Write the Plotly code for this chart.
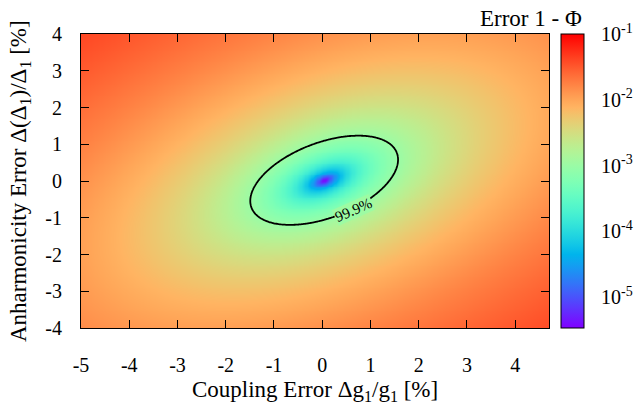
import numpy as np
import plotly.graph_objects as go

# ---- axes (values in %) ----
x_range = [-5.0, 4.7]
y_range = [-4.0, 4.0]
x_ticks = [-5, -4, -3, -2, -1, 0, 1, 2, 3, 4]
y_ticks = [-4, -3, -2, -1, 0, 1, 2, 3, 4]
x_title = "Coupling Error Δg<sub>1</sub>/g<sub>1</sub> [%]"
y_title = "Anharmonicity Error Δ(Δ<sub>1</sub>)/Δ<sub>1</sub> [%]"
cbar_title = "Error 1 - Φ"

# ---- error model: 1-Phi ~ e0 + a*dx^2 + b*dy^2 + c*dx*dy ----
err_floor = 4e-6
coef_xx = 5.4e-4
coef_yy = 8.6e-4
coef_xy = -6.3e-4
center_x = 0.04
center_y = 0.02
contour_fidelity = 0.999
contour_label = "99.9%"
label_pos = (0.64, -0.78)
label_angle = -24

# ---- colour bar (log10 of error) ----
cbar_min = -5.47
cbar_max = -1.0
cbar_major = [-1, -2, -3, -4, -5]
cbar_minor = [-1.5, -2.5, -3.5, -4.5]

FONT = "Liberation Serif"
TICK = 20
TITLE = 23

xs = np.linspace(x_range[0], x_range[1], 389)
ys = np.linspace(y_range[0], y_range[1], 321)
X, Y = np.meshgrid(xs, ys)


def model(x, y):
    dx, dy = x - center_x, y - center_y
    return err_floor + coef_xx * dx**2 + coef_yy * dy**2 + coef_xy * dx * dy


err = model(X, Y)
logerr = np.log10(err)


def rainbow(t):
    r = min(1.0, abs(2 * t - 0.5))
    g = np.sin(np.pi * t)
    b = np.cos(np.pi * t / 2)
    return "rgb(%d,%d,%d)" % (round(255 * r), round(255 * max(g, 0)), round(255 * max(b, 0)))


cscale = [[t, rainbow(t)] for t in np.linspace(0, 1, 41)]

tickvals = []
ticktext = []
for v in sorted(cbar_major + cbar_minor, reverse=True):
    tickvals.append(v)
    ticktext.append("10<sup>%d</sup>" % v if v in cbar_major else "")

fig = go.Figure()
fig.add_trace(go.Heatmap(
    x=xs, y=ys, z=logerr, zmin=cbar_min, zmax=cbar_max,
    colorscale=cscale, zsmooth="best", hoverinfo="skip",
    colorbar=dict(
        x=(561 - 81) / 468, xanchor="left", xpad=0, ypad=0,
        y=0, yanchor="bottom", len=1, lenmode="fraction",
        thickness=23, thicknessmode="pixels",
        outlinecolor="black", outlinewidth=1,
        tickmode="array", tickvals=tickvals, ticktext=ticktext,
        ticks="outside", ticklen=13, tickcolor="rgba(0,0,0,0)", tickwidth=1,
        tickfont=dict(family=FONT, size=TICK, color="black"),
    ),
))
fig.add_trace(go.Contour(
    x=xs, y=ys, z=1 - err, showscale=False, hoverinfo="skip",
    contours=dict(start=contour_fidelity, end=contour_fidelity, size=0.001,
                  coloring="none", showlabels=False),
    line=dict(color="black", width=1.8, smoothing=1),
))

# contour label, with a gap in the line painted in the local map colour
t_lab = (np.log10(model(*label_pos)) - cbar_min) / (cbar_max - cbar_min)
fig.add_annotation(text=contour_label, x=label_pos[0], y=label_pos[1], xref="x", yref="y",
                   showarrow=False, textangle=label_angle, bgcolor=rainbow(t_lab),
                   borderpad=0, font=dict(family=FONT, size=15, color="black"))

# colour-bar ticks on both edges (inside)
cb_l0 = (561 - 81) / 468
cb_l1 = (566 - 81) / 468
cb_r0 = (579 - 81) / 468
cb_r1 = (584 - 81) / 468
for v in cbar_major[1:] + cbar_minor:
    yp = (v - cbar_min) / (cbar_max - cbar_min)
    for a, b in ((cb_l0, cb_l1), (cb_r0, cb_r1)):
        fig.add_shape(type="line", xref="paper", yref="paper", x0=a, x1=b,
                      y0=yp, y1=yp, line=dict(color="black", width=1))

fig.add_annotation(text=cbar_title, xref="paper", yref="paper",
                   x=(584 - 81) / 468, y=1.0, xanchor="right", yanchor="bottom",
                   yshift=1, showarrow=False,
                   font=dict(family=FONT, size=TITLE, color="black"))
fig.add_annotation(text=x_title, xref="paper", yref="paper", x=0.5, y=0,
                   xanchor="center", yanchor="middle", yshift=-63, showarrow=False,
                   font=dict(family=FONT, size=TITLE, color="black"))
fig.add_annotation(text=y_title, xref="paper", yref="paper", x=0, y=0.5,
                   xanchor="center", yanchor="middle", xshift=-61, textangle=-90,
                   showarrow=False, font=dict(family=FONT, size=TITLE, color="black"))

axis_common = dict(showline=True, linecolor="black", linewidth=1, mirror="ticks",
                   ticks="inside", ticklen=8, tickcolor="black", tickwidth=1,
                   showgrid=False, zeroline=False, tickmode="array", automargin=False,
                   tickfont=dict(family=FONT, size=TICK, color="black"))
fig.update_xaxes(range=x_range, tickvals=x_ticks, ticktext=[str(v) for v in x_ticks],
                 ticklabelstandoff=19, **axis_common)
fig.update_yaxes(range=y_range, tickvals=y_ticks, ticktext=[str(v) for v in y_ticks],
                 ticklabelstandoff=14, **axis_common)
fig.update_layout(width=637, height=407,
                  margin=dict(l=81, r=88, t=34, b=79, autoexpand=False),
                  paper_bgcolor="white", plot_bgcolor="white", showlegend=False)
fig.write_html("out.html")
